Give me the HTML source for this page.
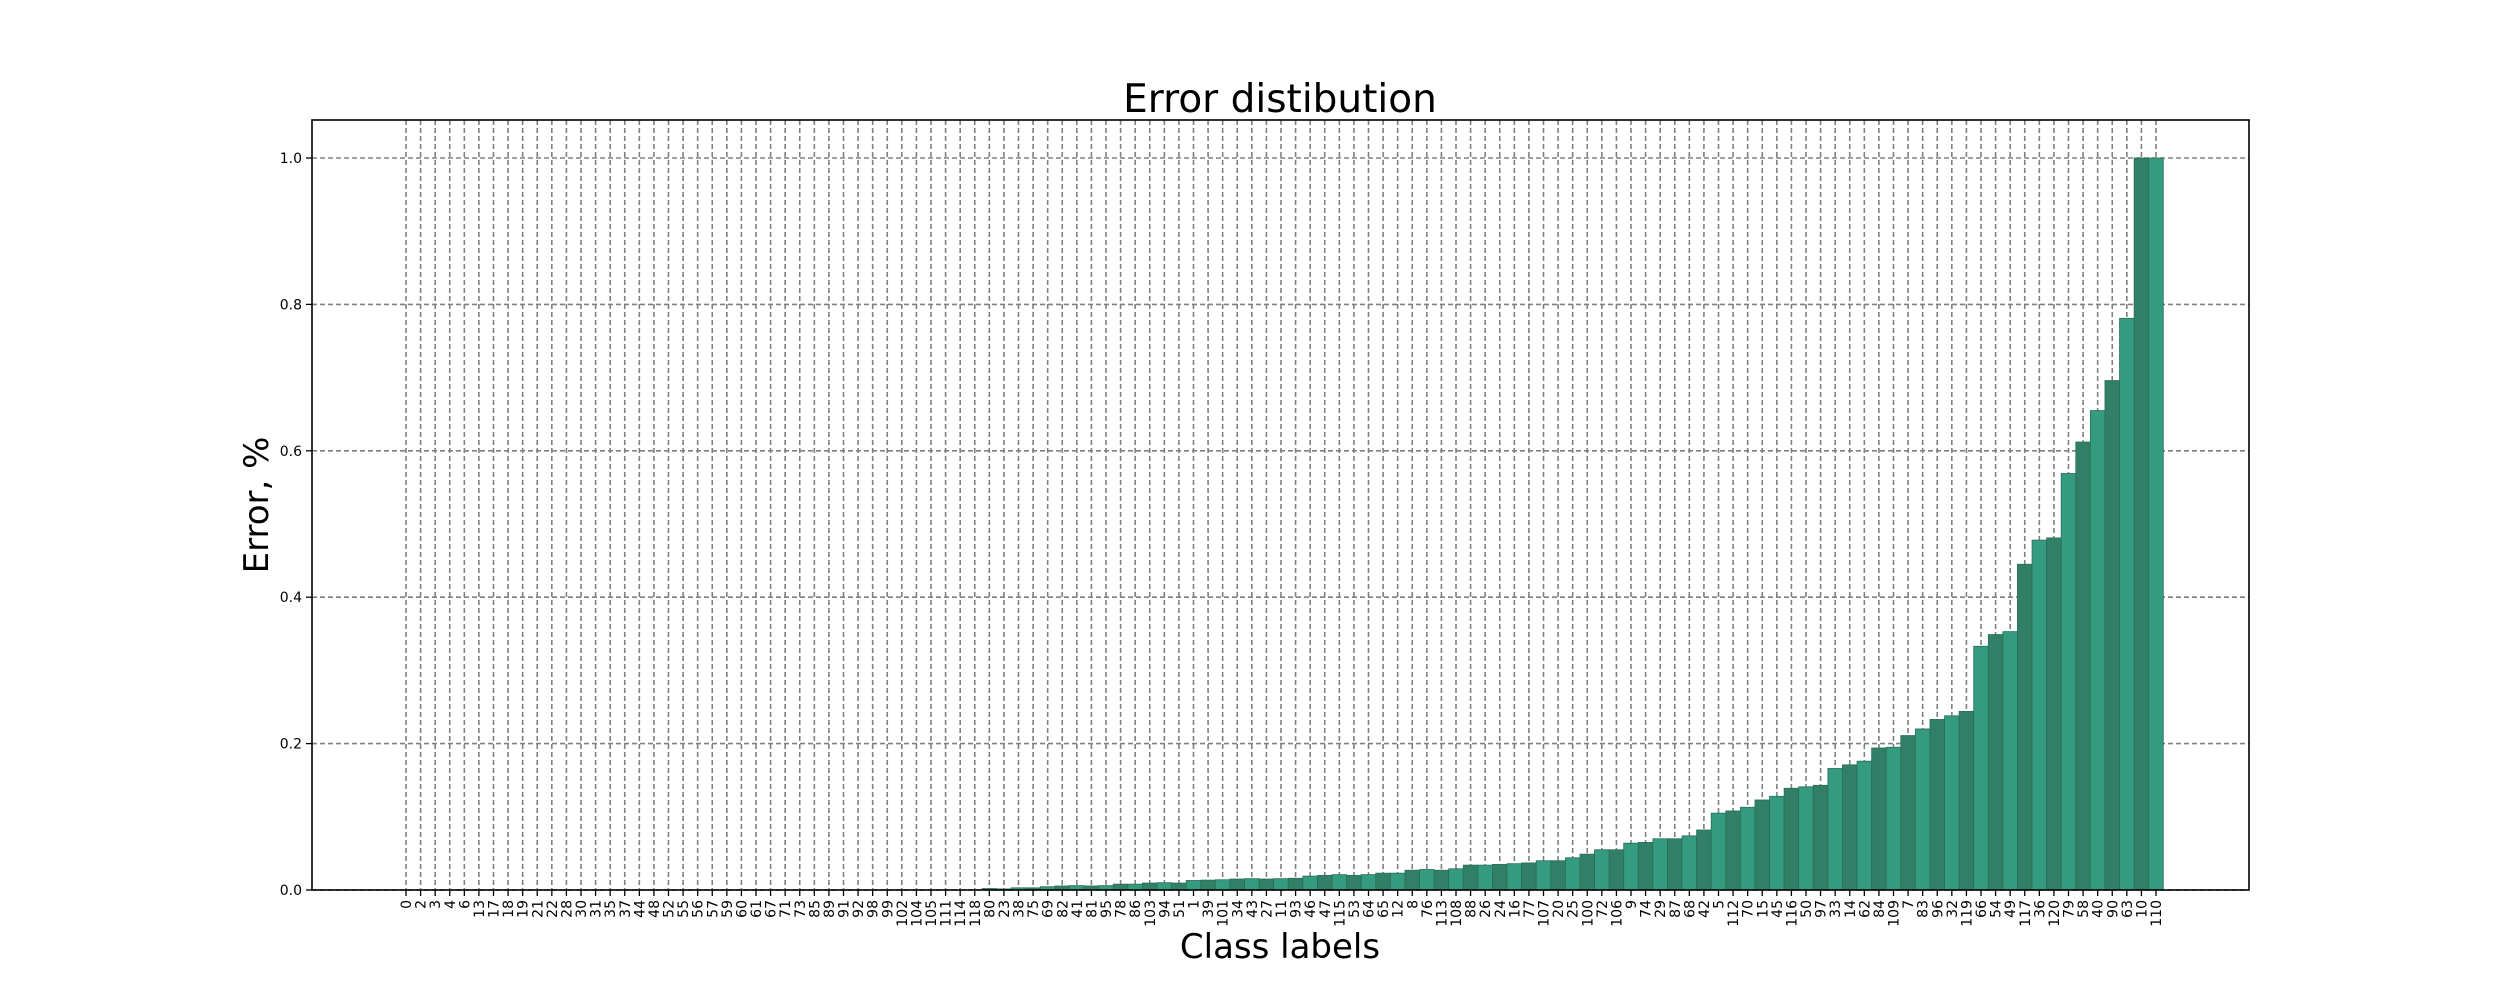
<!DOCTYPE html>
<html><head><meta charset="utf-8"><style>
html,body{margin:0;padding:0;background:#fff;}
svg text{font-family:"DejaVu Sans","Liberation Sans",sans-serif;}
</style></head><body>
<svg id="chart" width="2500" height="1000" xmlns="http://www.w3.org/2000/svg">
<rect width="2500" height="1000" fill="#fff"/>
<g id="grid"></g>
<g id="bars"></g>
<g id="axes"></g>
<text x="1280" y="112" font-size="39" text-anchor="middle">Error distibution</text>
<text x="1280" y="958" font-size="34" text-anchor="middle">Class labels</text>
<text transform="translate(268,505) rotate(-90)" font-size="34" text-anchor="middle">Error, %</text>
</svg>
<script>
const categories = ["0","2","3","4","6","13","17","18","19","21","22","28","30","31","35","37","44","48","52","55","56","57","59","60","61","67","71","73","85","89","91","92","98","99","102","104","105","111","114","118","80","23",
"38","75","69","82","41","81","95","78","86","103","94","51","1","39","101","34","43","27","11","93","46","47","115","53","64","65","12","8","76","113","108","88","26","24","16","77","107","20","25","100","72","106",
"9","74","29","87","68","42","5","112","70","15","45","116","50","97","33","14","62","84","109","7","83","96","32","119","66","54","49","117","36","120","79","58","40","90","63","10","110"];
const errors = [0,0,0,0,0,0,0,0,0,0,0,0,0,0,0,0,0,0,0,0,0,0,0,0,0,0,0,0,0,0,0,0,0,0,0,0,0,0,0,0,0.002,0.0015,
0.003,0.003,0.0045,0.0055,0.006,0.0055,0.006,0.008,0.008,0.0095,0.010,0.0095,0.013,0.0135,0.014,0.015,0.0155,0.015,0.0155,0.016,0.019,0.020,0.021,0.020,0.021,0.023,0.023,0.027,0.028,0.027,0.029,0.034,0.034,0.035,0.036,0.037,0.040,0.040,0.044,0.049,
0.055,0.055,0.064,0.065,0.070,0.070,0.074,0.082,0.105,0.108,0.113,0.123,0.128,0.139,0.141,0.143,0.166,0.171,0.176,0.194,0.195,0.211,0.220,0.233,0.238,0.244,0.333,0.349,0.353,0.445,0.478,0.481,0.569,0.612,0.655,0.696,0.781,1.0,1.0];
const yTicks = [0,0.2,0.4,0.6,0.8,1.0];
const yTickLabels = ["0.0","0.2","0.4","0.6","0.8","1.0"];

const NS="http://www.w3.org/2000/svg";
const L=312,R=2249,T=120,B=890;
const x0=406,x1=2156;
function xPos(i){return x0+(x1-x0)*i/(categories.length-1);}
function yPos(v){return B-(B-158)*v;}
const step=(x1-x0)/(categories.length-1);
function mk(tag,attrs,parent){const e=document.createElementNS(NS,tag);for(const k in attrs)e.setAttribute(k,attrs[k]);parent.appendChild(e);return e;}
const grid=document.getElementById('grid'),bars=document.getElementById('bars'),axes=document.getElementById('axes');
categories.forEach((c,i)=>{
  const g=mk('line',{x1:xPos(i),x2:xPos(i),y1:T,y2:B,stroke:'#808080','stroke-width':1.6,'stroke-dasharray':'5,3'},grid);
  
  
});
yTicks.forEach((v,i)=>{
  const g=mk('line',{x1:L,x2:R,y1:yPos(v),y2:yPos(v),stroke:'#808080','stroke-width':1.6,'stroke-dasharray':'5,3'},grid);
  
  
});
errors.forEach((v,i)=>{
  if(v<=0)return;
  const y=yPos(v);
  const b=mk('rect',{x:xPos(i)-step/2,y:y,width:step,height:B-y,fill:(i%2===0)?'#349b80':'#317f66',stroke:'#2a6e58','stroke-width':0.8},bars);
  
  
});
const frame=mk('rect',{x:L,y:T,width:R-L,height:B-T,fill:'none',stroke:'#000','stroke-width':1.6},axes);


categories.forEach((c,i)=>{
  mk('line',{x1:xPos(i),x2:xPos(i),y1:B,y2:B+6,stroke:'#000','stroke-width':1.3},axes);
  const t=mk('text',{transform:`translate(${xPos(i)+5},${B+10}) rotate(-90)`,'font-size':14,'text-anchor':'end'},axes);
  t.textContent=c;
  
  
});
yTicks.forEach((v,i)=>{
  mk('line',{x1:L-6,x2:L,y1:yPos(v),y2:yPos(v),stroke:'#000','stroke-width':1.3},axes);
  const t=mk('text',{x:L-10,y:yPos(v)+5,'font-size':14,'text-anchor':'end'},axes);
  t.textContent=yTickLabels[i];
  
  
});
</script>
</body></html>
